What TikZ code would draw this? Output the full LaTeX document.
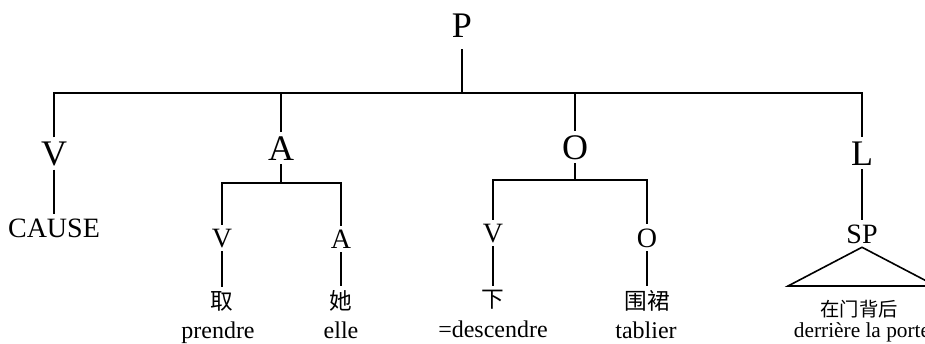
\documentclass[tikz,border=0pt]{standalone}
\usepackage{fontspec}
\setmainfont{Liberation Serif}
\newfontfamily\cjk{Noto Sans CJK SC}
\usepackage{tikz}

\begin{document}
\begin{tikzpicture}[x=0.75pt,y=-0.75pt,line width=1.2pt]
		\useasboundingbox (0,0) rectangle (925,343);
		\tikzstyle{every node}+=[inner sep=0pt,outer sep=3pt,anchor=base]
		\tikzstyle{cat}=[font=\fontsize{27}{30}\selectfont]
		\tikzstyle{subcat}=[font=\fontsize{21}{24}\selectfont]
		\tikzstyle{word}=[font=\cjk\fontsize{17}{20}\selectfont]
		\tikzstyle{gloss}=[font=\fontsize{18}{20}\selectfont]
		\node[cat,outer sep=9pt] (P) at (462,37) {P};
		\node[cat] (V) at (54,165) {V};
		\node[cat] (A) at (281,160) {A};
		\node[cat] (O) at (575,159) {O};
		\node[cat] (L) at (862,165) {L};
		\node[subcat] (cause) at (54,237) {CAUSE};
		\node[subcat] (av) at (222,247) {V};
		\node[subcat] (aa) at (341,248) {A};
		\node[word] (qu) at (222,309) {取};
		\node[word] (ta) at (341,309) {她};
		\node[gloss] (prendre) at (218,338) {prendre};
		\node[gloss] (elle) at (341,338) {elle};
		\node[subcat] (ov) at (493,242) {V};
		\node[subcat] (oo) at (647,247) {O};
		\node[word] (xia) at (493,307) {下};
		\node[word] (weiqun) at (647,309) {围裙};
		\node[gloss] (descendre) at (493,337) {=descendre};
		\node[gloss] (tablier) at (646,338) {tablier};
		\node[subcat] (sp) at (862,243) {SP};
		\node[word,font=\cjk\fontsize{14.5}{16}\selectfont] (zaimen) at (859,316) {在门背后};
		\node[gloss,font=\fontsize{16}{18}\selectfont] (porte) at (862,337) {derrière la porte};
		\coordinate (bar) at (0,93);
		\coordinate (abar) at (0,183);
		\coordinate (obar) at (0,180);
		\coordinate (base l) at (788,286);
		\coordinate (base r) at (936,286);
		% top level
		\draw (P) -- (P |- bar);
		\draw (V) -- (V |- bar) -- (L |- bar) -- (L);
		\draw (A) -- (A |- bar);
		\draw (O) -- (O |- bar);
		\draw (V) -- (cause);
		% A branch
		\draw (A) -- (A |- abar);
		\draw (av) -- (av |- abar) -- (aa |- abar) -- (aa);
		\draw (av) -- (qu);
		\draw (aa) -- (ta);
		% O branch
		\draw (O) -- (O |- obar);
		\draw (ov) -- (ov |- obar) -- (oo |- obar) -- (oo);
		\draw (ov) -- (xia);
		\draw (oo) -- (weiqun);
		% L branch
		\draw (L) -- (sp);
		\draw (sp.south) -- (base l) -- (base r) -- cycle;
\end{tikzpicture}
\end{document}
